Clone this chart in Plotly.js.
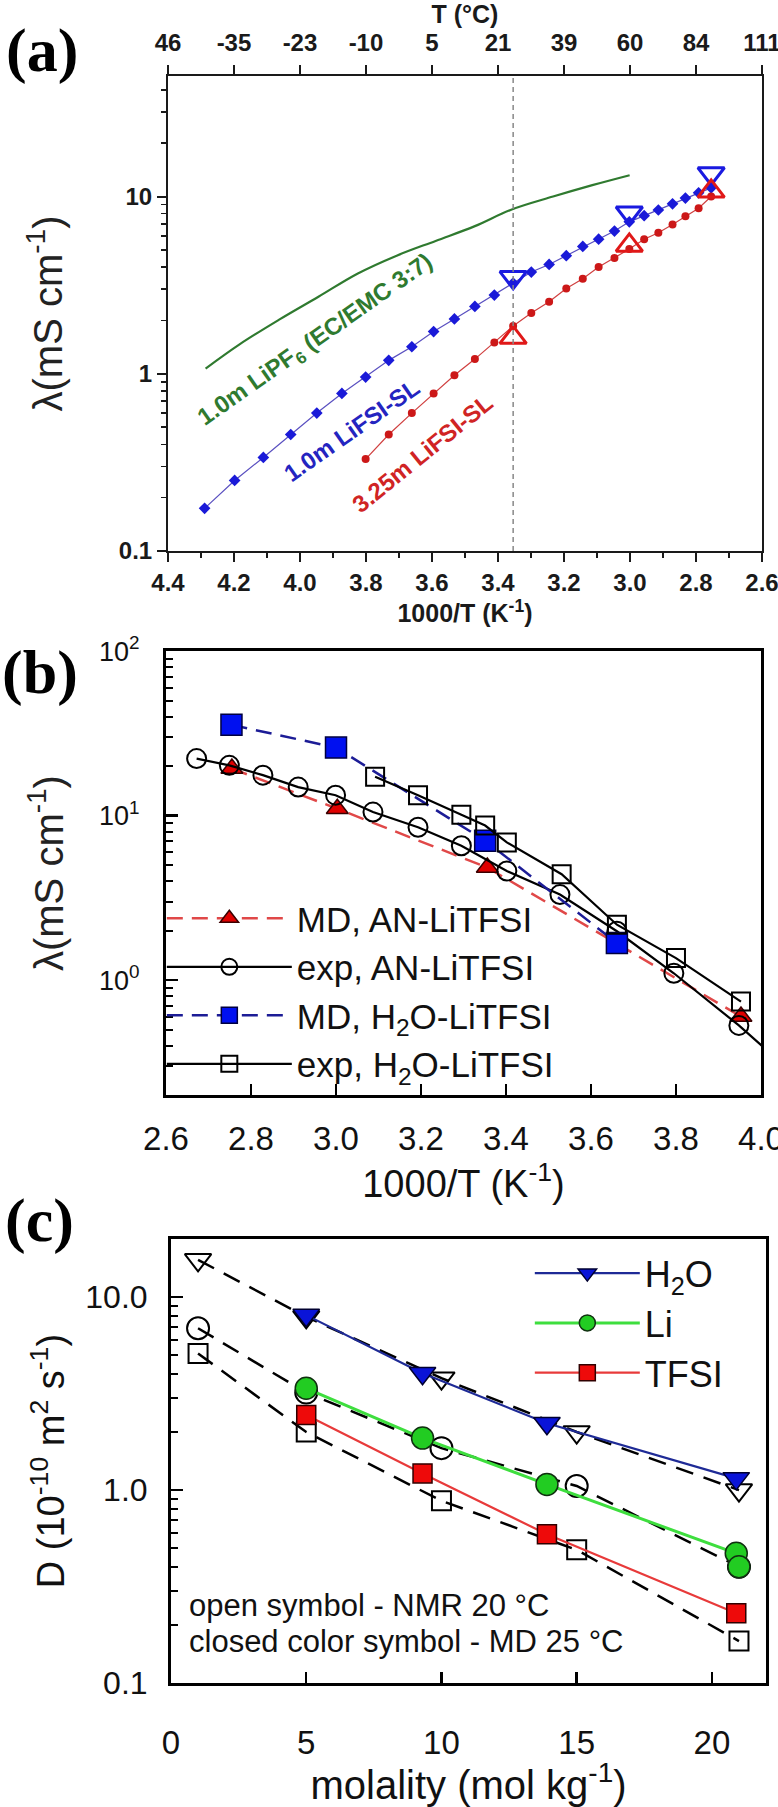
<!DOCTYPE html>
<html>
<head>
<meta charset="utf-8">
<script src="https://cdn.plot.ly/plotly-3.0.1.min.js"></script>
<style>html,body{margin:0;padding:0;background:#fff;}#chart{width:778px;height:1807px;}</style>
</head>
<body>
<div id="chart"></div>
<script>
// ---------- Panel (a): conductivity vs 1000/T ----------
const aTickVals = [4.4, 4.2, 4.0, 3.8, 3.6, 3.4, 3.2, 3.0, 2.8, 2.6];
const aTickText = ['4.4', '4.2', '4.0', '3.8', '3.6', '3.4', '3.2', '3.0', '2.8', '2.6'];
const aTopTickText = ['46', '-35', '-23', '-10', '5', '21', '39', '60', '84', '111'];
const aRefLineX = 3.354;

const aLiPF6X = [4.286, 4.182, 4.063, 3.944, 3.826, 3.707, 3.589, 3.470, 3.360, 3.233, 3.114, 3.001];
const aLiPF6Y = [1.07, 1.47, 2.02, 2.72, 3.67, 4.64, 5.62, 6.81, 8.43, 10.0, 11.6, 13.2];

const aLiFSI1X = [4.289, 4.198, 4.111, 4.028, 3.949, 3.873, 3.801, 3.731, 3.661, 3.595, 3.532, 3.470, 3.411, 3.354,
                  3.299, 3.245, 3.193, 3.143, 3.095, 3.047, 3.002, 2.957, 2.914, 2.871, 2.832, 2.792, 2.754];
const aLiFSI1Y = [0.174, 0.25, 0.337, 0.454, 0.60, 0.774, 0.958, 1.19, 1.42, 1.73, 2.04, 2.40, 2.78, 3.25,
                  3.75, 4.14, 4.64, 5.23, 5.75, 6.39, 7.2, 7.8, 8.4, 9.1, 9.8, 10.5, 11.2];

const aLiFSI325X = [3.801, 3.731, 3.661, 3.595, 3.532, 3.470, 3.411, 3.354, 3.299, 3.245, 3.193, 3.143, 3.095,
                    3.047, 3.002, 2.957, 2.914, 2.871, 2.832, 2.792, 2.754];
const aLiFSI325Y = [0.33, 0.454, 0.60, 0.774, 0.98, 1.21, 1.50, 1.86, 2.20, 2.55, 3.03, 3.44, 4.0,
                    4.5, 5.06, 5.74, 6.25, 6.96, 7.74, 8.6, 10.0];

const aOpenX = [3.354, 3.002, 2.754];
const aOpenBlueY = [3.5, 8.1, 13.5];
const aOpenRedY = [1.6, 5.3, 10.7];

// ---------- Panel (b) ----------
const bMdAnX = [2.755, 3.003, 3.356, 3.953];
const bMdAnY = [19.3, 11.0, 4.83, 0.60];
const bExpAnX = [2.672, 2.749, 2.828, 2.911, 2.999, 3.087, 3.193, 3.295, 3.402, 3.527, 3.661, 3.795, 3.948, 4.115];
const bExpAnY = [22.2, 20.2, 17.6, 14.9, 13.3, 10.5, 8.49, 6.55, 4.6, 3.31, 1.98, 1.10, 0.53, 0.22];
const bMdH2oX = [2.754, 3.0, 3.351, 3.661];
const bMdH2oY = [35.6, 25.9, 7.03, 1.68];
const bExpH2oX = [3.092, 3.193, 3.295, 3.351, 3.402, 3.531, 3.661, 3.8, 3.953];
const bExpH2oY = [17.2, 13.3, 10.1, 8.7, 6.87, 4.4, 2.17, 1.36, 0.74];

// ---------- Panel (c) ----------
const cNmrX = [1, 5, 10, 15, 21];
const cH2oNmrY = [15.6, 7.9, 3.8, 2.0, 1.0];
const cLiNmrY = [6.9, 3.2, 1.65, 1.05, 0.40];
const cTfsiNmrY = [5.1, 2.0, 0.88, 0.49, 0.165];
const cMdX = [5, 9.3, 13.9, 20.9];
const cH2oMdY = [8.07, 4.03, 2.22, 1.15];
const cLiMdX = [5, 9.3, 13.9, 20.9, 21.0];
const cLiMdY = [3.37, 1.86, 1.07, 0.47, 0.40];
const cTfsiMdY = [2.45, 1.22, 0.59, 0.23];

const FONT = 'Liberation Sans, Arial, Helvetica, sans-serif';
const SERIF = 'Liberation Serif, Times New Roman, serif';

function logMinor(lo, hi) {
  const v = [];
  for (let e = lo; e < hi; e++) for (let k = 2; k <= 9; k++) v.push(k * Math.pow(10, e));
  return v;
}

const traces = [
  // panel a
  {x: [], y: [], xaxis: 'x2', yaxis: 'y', showlegend: false, hoverinfo: 'skip'},
  {x: aLiPF6X, y: aLiPF6Y, mode: 'lines', line: {color: '#2f7a2f', width: 2.2, shape: 'spline'},
   xaxis: 'x', yaxis: 'y', showlegend: false},
  {x: aLiFSI1X, y: aLiFSI1Y, mode: 'lines+markers', line: {color: '#5a50c0', width: 1.2},
   marker: {symbol: 'diamond', size: 9, color: '#1a1ad8'}, xaxis: 'x', yaxis: 'y', showlegend: false},
  {x: aLiFSI325X, y: aLiFSI325Y, mode: 'lines+markers', line: {color: '#d04040', width: 1.2},
   marker: {symbol: 'circle', size: 8, color: '#cc1818'}, xaxis: 'x', yaxis: 'y', showlegend: false},
  {x: aOpenX, y: aOpenBlueY, mode: 'markers',
   marker: {symbol: 'triangle-down-open', size: 23, color: '#1a1ae0', line: {width: 3, color: '#1a1ae0'}},
   xaxis: 'x', yaxis: 'y', showlegend: false},
  {x: aOpenX, y: aOpenRedY, mode: 'markers',
   marker: {symbol: 'triangle-up-open', size: 23, color: '#e01818', line: {width: 3, color: '#e01818'}},
   xaxis: 'x', yaxis: 'y', showlegend: false},

  // panel b
  {x: bMdAnX, y: bMdAnY, name: 'MD, AN-LiTFSI', mode: 'lines+markers',
   line: {color: '#e04848', width: 2.5, dash: '16px,9px'},
   marker: {symbol: 'triangle-up', size: 19, color: '#e00000', line: {color: '#3a0000', width: 1.5}},
   xaxis: 'x3', yaxis: 'y3', legend: 'legend'},
  {x: bExpAnX, y: bExpAnY, name: 'exp, AN-LiTFSI', mode: 'lines+markers',
   line: {color: '#000', width: 2.2},
   marker: {symbol: 'circle-open', size: 19, color: '#000', line: {width: 2}},
   xaxis: 'x3', yaxis: 'y3', legend: 'legend'},
  {x: bMdH2oX, y: bMdH2oY, name: 'MD, H<sub>2</sub>O-LiTFSI', mode: 'lines+markers',
   line: {color: '#1c1c96', width: 2.5, dash: '16px,9px'},
   marker: {symbol: 'square', size: 21, color: '#0010f0', line: {color: '#000040', width: 1.5}},
   xaxis: 'x3', yaxis: 'y3', legend: 'legend'},
  {x: bExpH2oX, y: bExpH2oY, name: 'exp, H<sub>2</sub>O-LiTFSI', mode: 'lines+markers',
   line: {color: '#000', width: 2.2},
   marker: {symbol: 'square-open', size: 18, color: '#000', line: {width: 2}},
   xaxis: 'x3', yaxis: 'y3', legend: 'legend'},

  // panel c (NMR open symbols, dashed)
  {x: cNmrX, y: cH2oNmrY, mode: 'lines+markers', line: {color: '#000', width: 2.5, dash: '18px,11px'},
   marker: {symbol: 'triangle-down-open', size: 23, color: '#000', line: {width: 2}},
   xaxis: 'x4', yaxis: 'y4', showlegend: false},
  {x: cNmrX, y: cLiNmrY, mode: 'lines+markers', line: {color: '#000', width: 2.5, dash: '18px,11px'},
   marker: {symbol: 'circle-open', size: 22, color: '#000', line: {width: 2}},
   xaxis: 'x4', yaxis: 'y4', showlegend: false},
  {x: cNmrX, y: cTfsiNmrY, mode: 'lines+markers', line: {color: '#000', width: 2.5, dash: '18px,11px'},
   marker: {symbol: 'square-open', size: 19, color: '#000', line: {width: 2}},
   xaxis: 'x4', yaxis: 'y4', showlegend: false},
  // panel c (MD closed symbols)
  {x: cMdX, y: cH2oMdY, name: 'H<sub>2</sub>O', mode: 'lines+markers', line: {color: '#1e2a96', width: 2.2},
   marker: {symbol: 'triangle-down', size: 23, color: '#0a14d8', line: {color: '#000030', width: 1.5}},
   xaxis: 'x4', yaxis: 'y4', legend: 'legend2'},
  {x: cLiMdX, y: cLiMdY, name: 'Li', mode: 'lines+markers', line: {color: '#3ede3e', width: 3},
   marker: {symbol: 'circle', size: 22, color: '#22cc22', line: {color: '#103010', width: 1.5}},
   xaxis: 'x4', yaxis: 'y4', legend: 'legend2'},
  {x: cMdX, y: cTfsiMdY, name: 'TFSI', mode: 'lines+markers', line: {color: '#e83a3a', width: 2.2},
   marker: {symbol: 'square', size: 19, color: '#ee0a0a', line: {color: '#300000', width: 1.5}},
   xaxis: 'x4', yaxis: 'y4', legend: 'legend2'}
];

const boldA = {family: FONT, size: 24, weight: 700, color: '#1a1a1a'};
const regB = {family: FONT, size: 33, color: '#111'};
const DOM_A_X = [0.2159, 0.9794];

const layout = {
  width: 778, height: 1807,
  margin: {l: 0, r: 0, t: 0, b: 0},
  paper_bgcolor: '#fff', plot_bgcolor: 'rgba(0,0,0,0)',
  showlegend: true,
  // panel a
  xaxis: {
    domain: DOM_A_X, anchor: 'y', range: [4.4, 2.6],
    tickmode: 'array', tickvals: aTickVals, ticktext: aTickText,
    ticks: 'outside', ticklen: 9, tickwidth: 2, tickcolor: '#1a1a1a',
    showline: true, linewidth: 2, linecolor: '#1a1a1a', mirror: true,
    showgrid: false, zeroline: false, tickfont: boldA, ticklabeloverflow: 'allow',
    minor: {tickmode: 'array', tickvals: [4.3, 4.1, 3.9, 3.7, 3.5, 3.3, 3.1, 2.9, 2.7],
            ticks: 'outside', ticklen: 5, tickwidth: 1.5, tickcolor: '#1a1a1a'},
    title: {text: '1000/T (K<sup>-1</sup>)', font: {family: FONT, size: 25, weight: 700, color: '#1a1a1a'}, standoff: 10}
  },
  xaxis2: {
    overlaying: 'x', domain: DOM_A_X, side: 'top', anchor: 'y', range: [4.4, 2.6],
    tickmode: 'array', tickvals: aTickVals, ticktext: aTopTickText,
    ticks: 'outside', ticklen: 9, tickwidth: 2, tickcolor: '#1a1a1a',
    showline: true, linewidth: 2, linecolor: '#1a1a1a',
    showgrid: false, zeroline: false, tickfont: boldA, ticklabelstandoff: 4, ticklabeloverflow: 'allow',
    title: {text: 'T (°C)', font: {family: FONT, size: 25, weight: 700, color: '#1a1a1a'}, standoff: 10}
  },
  yaxis: {
    domain: [0.6951, 0.9579], anchor: 'x', type: 'log', range: [-1, 1.68],
    tickmode: 'array', tickvals: [0.1, 1, 10], ticktext: ['0.1', '1', '10'],
    ticks: 'outside', ticklen: 9, tickwidth: 2, tickcolor: '#1a1a1a',
    showline: true, linewidth: 2, linecolor: '#1a1a1a', mirror: true,
    showgrid: false, zeroline: false, tickfont: boldA,
    minor: {tickmode: 'array', tickvals: logMinor(-1, 2), ticks: 'outside', ticklen: 5, tickwidth: 1.5, tickcolor: '#1a1a1a'},
    title: {text: 'λ(mS cm<sup>-1</sup>)', font: {family: FONT, size: 40, color: '#222'}, standoff: 44}
  },
  // panel b
  xaxis3: {
    domain: [0.2134, 0.9781], anchor: 'y3', range: [2.6, 4.0],
    tickmode: 'array', tickvals: [2.6, 2.8, 3.0, 3.2, 3.4, 3.6, 3.8, 4.0],
    ticktext: ['2.6', '2.8', '3.0', '3.2', '3.4', '3.6', '3.8', '4.0'],
    ticks: 'inside', ticklen: 11, tickwidth: 2.5, tickcolor: '#000',
    showline: true, linewidth: 3, linecolor: '#000', mirror: true,
    showgrid: false, zeroline: false, tickfont: regB, ticklabelstandoff: 12, ticklabeloverflow: 'allow',
    title: {text: '1000/T (K<sup>-1</sup>)', font: {family: FONT, size: 38, color: '#111'}, standoff: 8}
  },
  yaxis3: {
    domain: [0.3940, 0.6397], anchor: 'x3', type: 'log', range: [-0.699, 2],
    tickmode: 'array', tickvals: [1, 10, 100], ticktext: ['10<sup>0</sup>', '10<sup>1</sup>', '10<sup>2</sup>'],
    ticks: 'inside', ticklen: 12, tickwidth: 2.5, tickcolor: '#000',
    showline: true, linewidth: 3, linecolor: '#000', mirror: true,
    showgrid: false, zeroline: false, tickfont: {family: FONT, size: 27, color: '#111'}, ticklabelstandoff: 18,
    minor: {tickmode: 'array', tickvals: logMinor(-1, 2).filter(v => v > 0.19), ticks: 'inside', ticklen: 7, tickwidth: 2, tickcolor: '#000'},
    title: {text: 'λ(mS cm<sup>-1</sup>)', font: {family: FONT, size: 40, color: '#222'}, standoff: 24}
  },
  // panel c
  xaxis4: {
    domain: [0.2198, 0.9846], anchor: 'y4', range: [0, 22],
    tickmode: 'array', tickvals: [0, 5, 10, 15, 20], ticktext: ['0', '5', '10', '15', '20'],
    ticks: 'inside', ticklen: 11, tickwidth: 2.5, tickcolor: '#000',
    showline: true, linewidth: 3, linecolor: '#000', mirror: true,
    showgrid: false, zeroline: false, tickfont: {family: FONT, size: 33, color: '#111'}, ticklabelstandoff: 28,
    ticklabeloverflow: 'allow',
    title: {text: 'molality (mol kg<sup>-1</sup>)', font: {family: FONT, size: 40, color: '#111'}, standoff: 10}
  },
  yaxis4: {
    domain: [0.0686, 0.3143], anchor: 'x4', type: 'log', range: [-1, 1.301],
    tickmode: 'array', tickvals: [0.1, 1, 10], ticktext: ['0.1', '1.0', '10.0'],
    ticks: 'inside', ticklen: 12, tickwidth: 2.5, tickcolor: '#000',
    showline: true, linewidth: 3, linecolor: '#000', mirror: true,
    showgrid: false, zeroline: false, tickfont: {family: FONT, size: 32, color: '#111'}, ticklabelstandoff: 14,
    minor: {tickmode: 'array', tickvals: logMinor(-1, 2).filter(v => v < 20), ticks: 'inside', ticklen: 7, tickwidth: 2, tickcolor: '#000'},
    title: {text: 'D (10<sup>-10</sup> m<sup>2</sup> s<sup>-1</sup>)', font: {family: FONT, size: 38, color: '#111'}, standoff: 10}
  },
  legend: {
    x: 0.208, y: 0.508, xanchor: 'left', yanchor: 'top', bgcolor: 'rgba(0,0,0,0)',
    font: {family: FONT, size: 35, color: '#111'}, itemwidth: 125, tracegroupgap: 0
  },
  legend2: {
    x: 0.681, y: 0.312, xanchor: 'left', yanchor: 'top', bgcolor: 'rgba(0,0,0,0)',
    font: {family: FONT, size: 36, color: '#111'}, itemwidth: 105, tracegroupgap: 0
  },
  shapes: [
    {type: 'line', xref: 'x', yref: 'y domain', x0: aRefLineX, x1: aRefLineX, y0: 0, y1: 1,
     line: {color: '#888', width: 1.5, dash: '5px,4px'}}
  ],
  annotations: [
    {text: '(a)', xref: 'paper', yref: 'paper', x: 0.054, y: 0.9723, xanchor: 'center', yanchor: 'middle',
     showarrow: false, font: {family: SERIF, size: 62, weight: 700, color: '#000'}},
    {text: '(b)', xref: 'paper', yref: 'paper', x: 0.051, y: 0.6281, xanchor: 'center', yanchor: 'middle',
     showarrow: false, font: {family: SERIF, size: 62, weight: 700, color: '#000'}},
    {text: '(c)', xref: 'paper', yref: 'paper', x: 0.051, y: 0.3248, xanchor: 'center', yanchor: 'middle',
     showarrow: false, font: {family: SERIF, size: 62, weight: 700, color: '#000'}},
    {text: '1.0m LiPF<sub>6</sub> (EC/EMC 3:7)', xref: 'paper', yref: 'paper', x: 0.406, y: 0.8113,
     xanchor: 'center', yanchor: 'middle',
     textangle: -35, showarrow: false, font: {family: FONT, size: 24, weight: 700, color: '#2f7a2f'}},
    {text: '1.0m LiFSI-SL', xref: 'paper', yref: 'paper', x: 0.4512, y: 0.7620,
     xanchor: 'center', yanchor: 'middle',
     textangle: -35, showarrow: false, font: {family: FONT, size: 24, weight: 700, color: '#2424c0'}},
    {text: '3.25m LiFSI-SL', xref: 'paper', yref: 'paper', x: 0.5424, y: 0.7493,
     xanchor: 'center', yanchor: 'middle',
     textangle: -39, showarrow: false, font: {family: FONT, size: 24, weight: 700, color: '#d02424'}},
    {text: 'open symbol - NMR 20 °C', xref: 'paper', yref: 'paper',
     x: 187 / 778, y: 1 - 1605 / 1807, xanchor: 'left', yanchor: 'middle', showarrow: false,
     font: {family: FONT, size: 31, color: '#111'}},
    {text: 'closed color symbol - MD 25 °C', xref: 'paper', yref: 'paper',
     x: 187 / 778, y: 1 - 1641 / 1807, xanchor: 'left', yanchor: 'middle', showarrow: false,
     font: {family: FONT, size: 31, color: '#111'}}
  ]
};

Plotly.newPlot('chart', traces, layout, {displayModeBar: false, staticPlot: true});
</script>
</body>
</html>
